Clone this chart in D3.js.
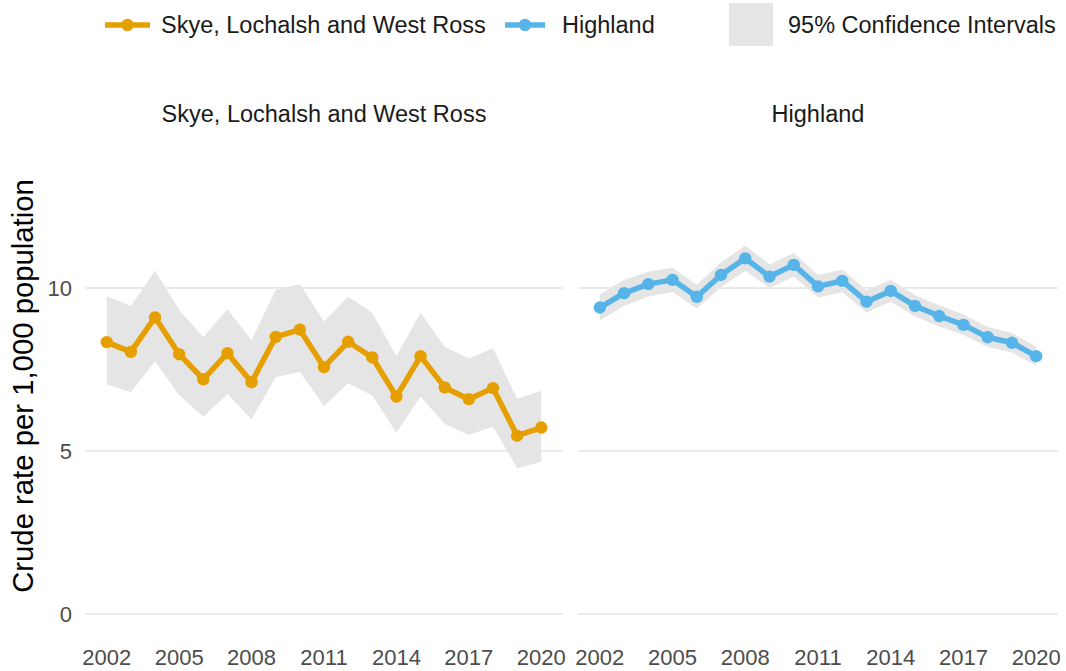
<!DOCTYPE html>
<html><head><meta charset="utf-8">
<script src="https://cdn.jsdelivr.net/npm/d3@7"></script>
<style>body{margin:0;background:#fff}svg{display:block}text{font-family:"Liberation Sans",Arial,sans-serif}</style>
</head><body><svg id="c" width="1066" height="671"></svg>
<script>
const years = d3.range(2002, 2021);
const yearTicks = [2002, 2005, 2008, 2011, 2014, 2017, 2020];
const yTicks = [0, 5, 10];
const panelNames = ["Skye, Lochalsh and West Ross", "Highland"];
const skyeRate  = [8.34, 8.04, 9.1, 7.97, 7.2, 8.0, 7.11, 8.5, 8.72, 7.57, 8.35, 7.87, 6.67, 7.91, 6.95, 6.59, 6.93, 5.47, 5.72];
const skyeLow   = [7.05, 6.8, 7.75, 6.72, 6.05, 6.75, 5.97, 7.26, 7.43, 6.38, 7.08, 6.7, 5.56, 6.67, 5.83, 5.49, 5.75, 4.47, 4.67];
const skyeHigh  = [9.75, 9.45, 10.53, 9.33, 8.49, 9.35, 8.4, 9.94, 10.12, 8.97, 9.73, 9.24, 7.91, 9.24, 8.2, 7.84, 8.15, 6.6, 6.85];
const highRate  = [9.4, 9.84, 10.12, 10.25, 9.73, 10.4, 10.91, 10.35, 10.71, 10.05, 10.22, 9.58, 9.91, 9.45, 9.14, 8.87, 8.49, 8.32, 7.91];
const highLow   = [9.0, 9.45, 9.74, 9.88, 9.37, 10.03, 10.53, 9.99, 10.35, 9.71, 9.87, 9.25, 9.58, 9.13, 8.82, 8.56, 8.19, 8.02, 7.62];
const highHigh  = [9.8, 10.25, 10.5, 10.62, 10.1, 10.78, 11.3, 10.72, 11.07, 10.4, 10.57, 9.92, 10.25, 9.78, 9.47, 9.19, 8.8, 8.62, 8.2];
const colors = ["#E69F00", "#56B4E9"];
const bandColor = "#e5e5e5";

const svg = d3.select("#c");
const y = d3.scaleLinear().domain([0, 10]).range([614, 288]);
const panels = [
  {name: panelNames[0], rate: skyeRate, low: skyeLow, high: skyeHigh, color: colors[0], x0: 85, x1: 563},
  {name: panelNames[1], rate: highRate, low: highLow, high: highHigh, color: colors[1], x0: 578, x1: 1058}
];

yTicks.forEach(t => {
  svg.append("text").attr("x", 72).attr("y", y(t)).attr("dy", "0.36em")
    .attr("text-anchor", "end").attr("font-size", 22).attr("fill", "#4d4d4d").text(t);
});

panels.forEach(p => {
  const x = d3.scaleLinear().domain([2002 - 0.9, 2020 + 0.9]).range([p.x0, p.x1]);
  const g = svg.append("g");
  yTicks.forEach(t => {
    g.append("line").attr("x1", p.x0).attr("x2", p.x1).attr("y1", y(t)).attr("y2", y(t))
      .attr("stroke", "#ebebeb").attr("stroke-width", 2.2);
  });
  const data = years.map((yr, i) => ({yr, v: p.rate[i], lo: p.low[i], hi: p.high[i]}));
  g.append("path").datum(data)
    .attr("d", d3.area().x(d => x(d.yr)).y0(d => y(d.lo)).y1(d => y(d.hi)))
    .attr("fill", bandColor);
  g.append("path").datum(data)
    .attr("d", d3.line().x(d => x(d.yr)).y(d => y(d.v)))
    .attr("fill", "none").attr("stroke", p.color).attr("stroke-width", 5.5).attr("stroke-linejoin", "round");
  g.selectAll("circle").data(data).join("circle")
    .attr("cx", d => x(d.yr)).attr("cy", d => y(d.v)).attr("r", 6.2).attr("fill", p.color);
  yearTicks.forEach(t => {
    g.append("text").attr("x", x(t)).attr("y", 657).attr("dy", "0.36em")
      .attr("text-anchor", "middle").attr("font-size", 22).attr("fill", "#4d4d4d").text(t);
  });
  svg.append("text").attr("x", (p.x0 + p.x1) / 2).attr("y", 114).attr("dy", "0.36em")
    .attr("text-anchor", "middle").attr("font-size", 23.5).attr("fill", "#1a1a1a").text(p.name);
});

svg.append("text").attr("transform", "translate(22,386) rotate(-90)").attr("dy", "0.36em")
  .attr("text-anchor", "middle").attr("font-size", 29.3).attr("fill", "#000").text("Crude rate per 1,000 population");

const lg = svg.append("g");
[[105, 150, 161, panelNames[0], colors[0]], [505, 545, 562, panelNames[1], colors[1]]].forEach(([a, b, tx, label, col]) => {
  lg.append("line").attr("x1", a).attr("x2", b).attr("y1", 25).attr("y2", 25).attr("stroke", col).attr("stroke-width", 5.5);
  lg.append("circle").attr("cx", (a + b) / 2).attr("cy", 25).attr("r", 6.2).attr("fill", col);
  lg.append("text").attr("x", tx).attr("y", 25).attr("dy", "0.36em").attr("font-size", 23.5).attr("fill", "#1a1a1a").text(label);
});
lg.append("rect").attr("x", 729).attr("y", 3).attr("width", 44).attr("height", 43).attr("fill", bandColor);
lg.append("text").attr("x", 788).attr("y", 25).attr("dy", "0.36em").attr("font-size", 23.5).attr("fill", "#1a1a1a").text("95% Confidence Intervals");
</script></body></html>
